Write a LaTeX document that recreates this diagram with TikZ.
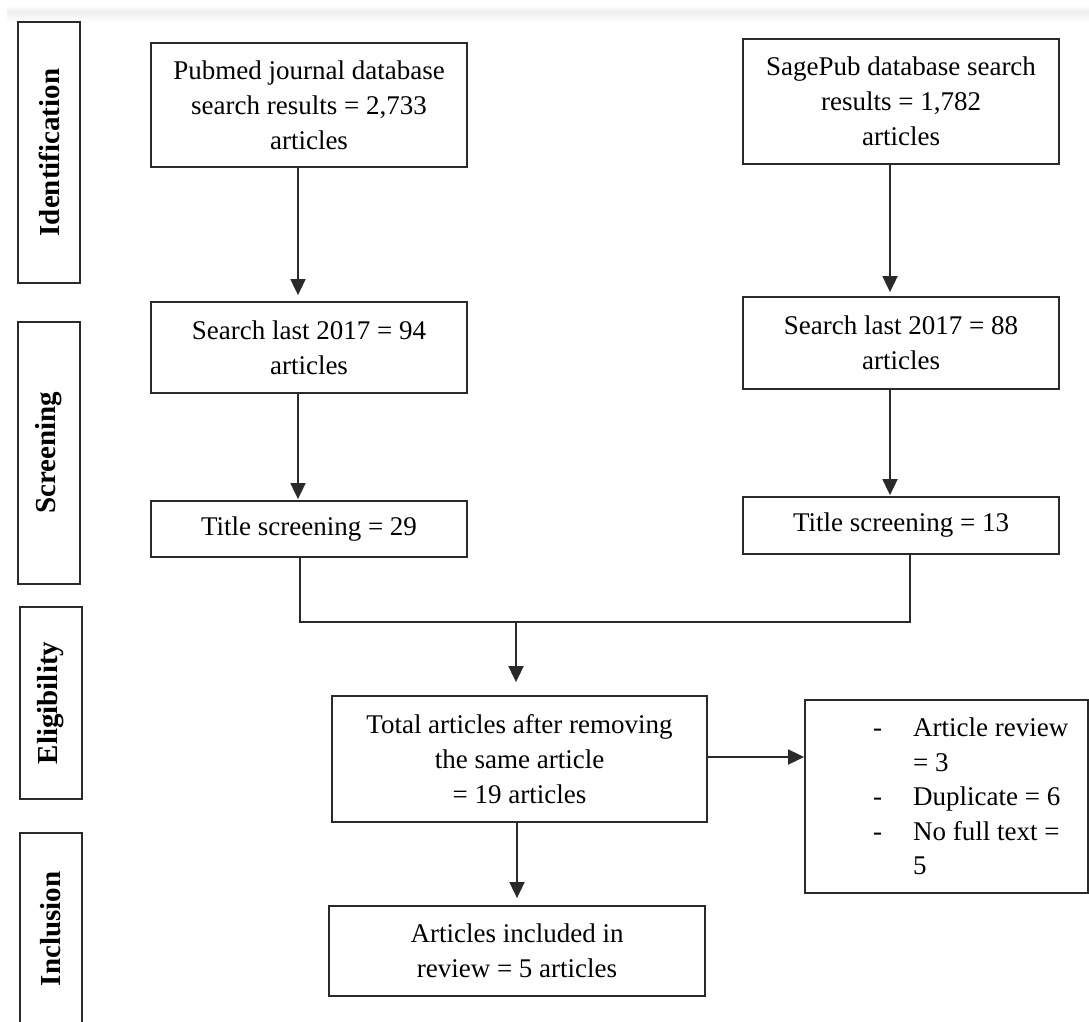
\documentclass[tikz,border=0pt]{standalone}
\usepackage{fontspec}
\setmainfont{Liberation Serif}
\usetikzlibrary{arrows.meta,calc}
\definecolor{edge}{HTML}{2A2A2A}
\tikzset{
  box/.style={draw=edge, line width=1.8pt, align=center, inner sep=0pt,
    font=\fontsize{27}{35}\selectfont},
  side/.style={draw=edge, line width=1.8pt, rotate=90, inner sep=0pt,
    font=\fontsize{29}{35}\selectfont\bfseries},
  arr/.style={draw=edge, line width=1.8pt, -{Triangle[length=16pt,width=15pt]}},
  ln/.style={draw=edge, line width=1.8pt}
}
\begin{document}
\begin{tikzpicture}[x=1pt,y=-1pt]
\useasboundingbox (0,0) rectangle (1089,1021);
\shade[top color=white, bottom color=gray!14] (7,6) rectangle (1089,11);
\shade[top color=gray!14, bottom color=white] (7,11) rectangle (1089,22);

% phase labels
\node[side, minimum width=261pt, minimum height=62pt] (ident) at (49,152.5) {Identification};
\node[side, minimum width=262pt, minimum height=62pt] (screen) at (49,453) {Screening};
\node[side, minimum width=192pt, minimum height=62pt] (elig) at (51,703) {Eligibility};
\node[side, minimum width=192pt, minimum height=62pt] (inclside) at (51,929) {Inclusion};

% main boxes
\node[box, minimum width=316pt, minimum height=124pt] (pub) at (309,105)
  {Pubmed journal database\\search results = 2,733\\articles};
\node[box, minimum width=316pt, minimum height=125pt] (sage) at (901,101.5)
  {SagePub database search\\results = 1,782\\articles};
\node[box, minimum width=316pt, minimum height=91pt] (pubsearch) at (309,347.5)
  {Search last 2017 = 94\\articles};
\node[box, minimum width=316pt, minimum height=92pt] (sagesearch) at (901,343)
  {Search last 2017 = 88\\articles};
\node[box, minimum width=316pt, minimum height=56pt] (pubtitle) at (309,529)
  {Title screening = 29};
\node[box, minimum width=316pt, minimum height=57pt] (sagetitle) at (901,525.5)
  {Title screening = 13};
\node[box, minimum width=375pt, minimum height=126pt] (total) at (519.5,759)
  {Total articles after removing\\the same article\\= 19 articles};
\node[box, minimum width=283pt, minimum height=193pt] (excl) at (946.5,796.5) {};
\node[anchor=west, inner sep=0pt, font=\fontsize{27}{34.5}\selectfont] (excltext) at (873,799)
  {\begin{tabular}{@{}p{40pt}@{}l@{}}
   - & Article review\\
     & = 3\\
   - & Duplicate = 6\\
   - & No full text =\\
     & 5
   \end{tabular}};
\node[box, minimum width=376pt, minimum height=90pt] (incl) at (517,951)
  {Articles included in\\review = 5 articles};

% connectors
\draw[arr, shorten >=6pt] ([xshift=-11pt]pub.south) -- ([xshift=-11pt]pubsearch.north);
\draw[arr, shorten >=4pt] ([xshift=-11pt]sage.south) -- ([xshift=-11pt]sagesearch.north);
\draw[arr, shorten >=1pt] ([xshift=-11pt]pubsearch.south) -- ([xshift=-11pt]pubtitle.north);
\draw[arr, shorten >=1pt] ([xshift=-11pt]sagesearch.south) -- ([xshift=-11pt]sagetitle.north);
\coordinate (merge) at (516,622);
\draw[ln] ([xshift=-9pt]pubtitle.south) |- (merge) -| ([xshift=9pt]sagetitle.south);
\draw[arr, shorten >=13pt] (merge) -- (merge |- total.north);
\draw[arr] ([yshift=2pt]total.east) -- ([yshift=2pt]total.east -| excl.west);
\draw[arr, shorten >=7pt] ([xshift=-2.5pt]total.south) -- ([xshift=-2.5pt]total.south |- incl.north);
\end{tikzpicture}
\end{document}
